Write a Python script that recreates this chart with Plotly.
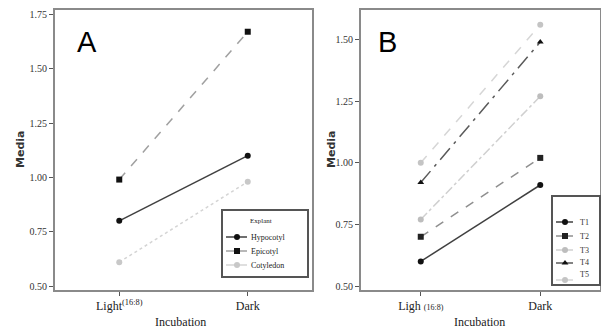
import plotly.graph_objects as go

incubation = ["Light", "Dark"]
tick_a = ["Light<sup>(16:8)</sup>", "Dark"]
tick_b = ["Ligh <span style='font-size:8px'>(16:8)</span>", "Dark"]

hypocotyl = [0.80, 1.10]
epicotyl = [0.99, 1.67]
cotyledon = [0.61, 0.98]

t1 = [0.60, 0.91]
t2 = [0.70, 1.02]
t3 = [0.77, 1.27]
t4 = [0.92, 1.49]
t5 = [1.00, 1.56]

names_a = ["Hypocotyl", "Epicotyl", "Cotyledon"]
names_b = ["T1", "T2", "T3", "T4", "T5"]

fig = go.Figure()
xa = [0, 1]

specA = [
    (names_a[0], hypocotyl, "#404040", "solid", "circle", "#111111"),
    (names_a[1], epicotyl, "#a0a0a0", "dash", "square", "#111111"),
    (names_a[2], cotyledon, "#d4d4d4", "dot", "circle", "#c8c8c8"),
]
specB = [
    (names_b[0], t1, "#404040", "solid", "circle", "#111111"),
    (names_b[1], t2, "#8f8f8f", "dash", "square", "#222222"),
    (names_b[2], t3, "#d0d0d0", "dashdot", "circle", "#bdbdbd"),
    (names_b[3], t4, "#5a5a5a", "longdashdot", "triangle-up", "#111111"),
    (names_b[4], t5, "#d6d6d6", "dash", "circle", "#c4c4c4"),
]

for name, vals, lc, dash, sym, mc in specA:
    fig.add_trace(go.Scatter(x=xa, y=vals, name=name, mode="lines+markers",
                             line=dict(color=lc, width=1.5, dash=dash),
                             marker=dict(symbol=sym, size=6, color=mc),
                             xaxis="x", yaxis="y", showlegend=False))
for name, vals, lc, dash, sym, mc in specB:
    fig.add_trace(go.Scatter(x=xa, y=vals, name=name, mode="lines+markers",
                             line=dict(color=lc, width=1.5, dash=dash),
                             marker=dict(symbol=sym, size=6, color=mc),
                             xaxis="x2", yaxis="y2", showlegend=False))

# custom legends drawn on small helper axes (pixel-like coordinates)
legA_rows = [237, 251, 265]
for (name, vals, lc, dash, sym, mc), yy in zip(specA, legA_rows):
    fig.add_trace(go.Scatter(x=[226, 247], y=[yy, yy], mode="lines", line=dict(color=lc, width=1.5),
                             xaxis="x3", yaxis="y3", showlegend=False, hoverinfo="skip"))
    fig.add_trace(go.Scatter(x=[237], y=[yy], mode="markers", marker=dict(symbol=sym, size=6, color=mc),
                             xaxis="x3", yaxis="y3", showlegend=False, hoverinfo="skip"))
legB_rows = [222, 236, 250, 263, 280]
legB_text_rows = [222, 236, 250, 262, 274]
for (name, vals, lc, dash, sym, mc), yy in zip(specB, legB_rows):
    fig.add_trace(go.Scatter(x=[556, 573], y=[yy, yy], mode="lines", line=dict(color=lc, width=1.5),
                             xaxis="x4", yaxis="y4", showlegend=False, hoverinfo="skip"))
    fig.add_trace(go.Scatter(x=[565], y=[yy], mode="markers", marker=dict(symbol=sym, size=6, color=mc),
                             xaxis="x4", yaxis="y4", showlegend=False, hoverinfo="skip"))

serif = "Liberation Serif, serif"
tickfont = dict(family=serif, size=10, color="#333333")
axcommon = dict(showline=True, linecolor="#8a8a8a", linewidth=2, mirror=True,
                ticks="outside", ticklen=4, tickcolor="#555555", showgrid=False,
                zeroline=False, tickfont=tickfont)
xtickfont = dict(family=serif, size=12, color="#222")
boxax = dict(showline=True, linecolor="#555555", linewidth=1.5, mirror=True, showgrid=False,
             zeroline=False, showticklabels=False, ticks="", fixedrange=True)

annotations = []
for letter, xp in [("A", 75), ("B", 376)]:
    annotations.append(dict(text=letter, x=xp / 601, y=(290 - 24) / 280, xref="paper", yref="paper",
                            xanchor="left", yanchor="top", showarrow=False,
                            font=dict(family="Liberation Sans Narrow, Liberation Sans, sans-serif",
                                      size=29, color="black")))
for xp in [20, 331]:
    annotations.append(dict(text="<b>Media</b>", x=xp / 601, y=0.5, xref="paper", yref="paper",
                            textangle=-90, showarrow=False, xanchor="center", yanchor="middle",
                            font=dict(family="DejaVu Sans, sans-serif", size=11, color="#333")))
for xp in [180, 479]:
    annotations.append(dict(text="Incubation", x=xp / 601, y=(290 - 322) / 280, xref="paper", yref="paper",
                            showarrow=False, xanchor="center", yanchor="middle",
                            font=dict(family=serif, size=12, color="#222")))
annotations.append(dict(text="Explant", x=248, y=221, xref="x3", yref="y3", xanchor="left", yanchor="middle",
                        showarrow=False, font=dict(family=serif, size=7, color="#222")))
for name, yy in zip(names_a, legA_rows):
    annotations.append(dict(text=name, x=249, y=yy, xref="x3", yref="y3", xanchor="left", yanchor="middle",
                            showarrow=False, font=dict(family=serif, size=8, color="#222")))
for name, yy in zip(names_b, legB_text_rows):
    annotations.append(dict(text=name, x=578, y=yy, xref="x4", yref="y4", xanchor="left", yanchor="middle",
                            showarrow=False, font=dict(family=serif, size=8, color="#333")))

fig.update_layout(
    width=601, height=331,
    margin=dict(l=0, r=0, t=10, b=41),
    paper_bgcolor="white", plot_bgcolor="white",
    showlegend=False,
    xaxis=dict(domain=[55 / 601, 312 / 601], range=[-0.5, 1.5], tickvals=xa, ticktext=tick_a,
               anchor="y", **{**axcommon, "tickfont": xtickfont}),
    yaxis=dict(domain=[0, 1], range=[0.482, 1.77], tickvals=[0.5, 0.75, 1.0, 1.25, 1.5, 1.75],
               ticktext=["0.50", "0.75", "1.00", "1.25", "1.50", "1.75"], anchor="x", **axcommon),
    xaxis2=dict(domain=[361 / 601, 600 / 601], range=[-0.5, 1.5], tickvals=xa, ticktext=tick_b,
                anchor="y2", **{**axcommon, "tickfont": xtickfont}),
    yaxis2=dict(domain=[0, 1], range=[0.484, 1.62], tickvals=[0.5, 0.75, 1.0, 1.25, 1.5],
                ticktext=["0.50", "0.75", "1.00", "1.25", "1.50"], anchor="x2", **axcommon),
    xaxis3=dict(domain=[223 / 601, 307 / 601], range=[223, 307], anchor="y3", **boxax),
    yaxis3=dict(domain=[(290 - 276) / 280, (290 - 211) / 280], range=[276, 211], anchor="x3", **boxax),
    xaxis4=dict(domain=[553 / 601, 599 / 601], range=[553, 599], anchor="y4", **boxax),
    yaxis4=dict(domain=[(290 - 284) / 280, (290 - 197) / 280], range=[284, 197], anchor="x4", **boxax),
    annotations=annotations,
)

fig.write_html("out.html", config={"displayModeBar": False},
               post_script="document.body.style.margin='0';document.body.style.overflow='hidden';")
